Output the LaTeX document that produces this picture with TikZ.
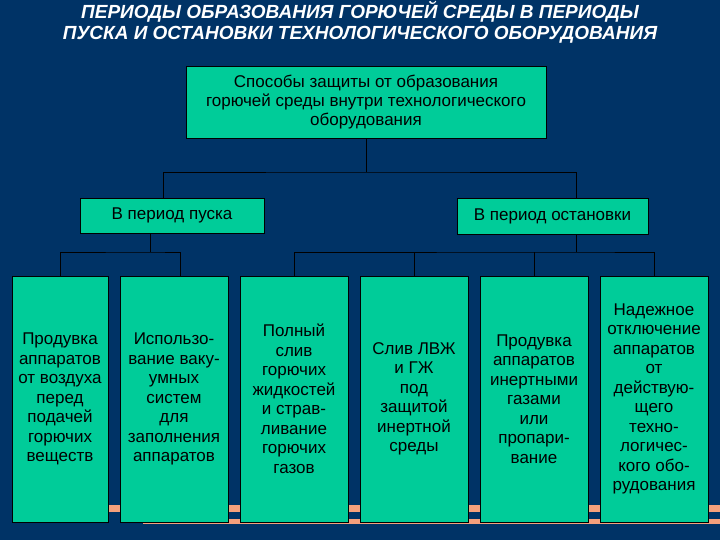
\documentclass[tikz,border=0pt]{standalone}
\usepackage{fontspec}
\setmainfont{Liberation Sans}
\begin{document}
\begin{tikzpicture}[x=1pt,y=-1pt,
  box/.style={draw=black,fill=teal0,line width=0.8pt,inner sep=0pt,font=\fontsize{17}{19.5}\selectfont,align=center},
  conn/.style={draw=black,line width=0.8pt}]
\definecolor{bg}{HTML}{003366}
\definecolor{teal0}{HTML}{00CC99}
\definecolor{salmon}{HTML}{F4A07C}
\fill[bg] (0,0) rectangle (720,540);
\useasboundingbox (0,0) rectangle (720,540);
\fill[salmon] (108,505) rectangle (720,512);
\fill[salmon] (143,519) rectangle (720,524);
\node[font=\fontsize{19}{21}\selectfont\bfseries\itshape,text=white,align=center] (title) at (360,22) {ПЕРИОДЫ ОБРАЗОВАНИЯ ГОРЮЧЕЙ СРЕДЫ В ПЕРИОДЫ\\ПУСКА И ОСТАНОВКИ ТЕХНОЛОГИЧЕСКОГО ОБОРУДОВАНИЯ};
\node[box,minimum width=360,minimum height=72,font=\fontsize{17}{19}\selectfont] (top) at (366,102) {Способы защиты от образования\\горючей среды внутри технологического\\оборудования};
\node[box,minimum width=184,minimum height=35] (start) at (172,215.5) {В период пуска};
\node[box,minimum width=191,minimum height=36] (stop) at (552.5,216) {В период остановки};
\node[box,minimum width=96,minimum height=246] (b1) at (60,399) {Продувка\\аппаратов\\от воздуха\\перед\\подачей\\горючих\\веществ};
\node[box,minimum width=108,minimum height=246] (b2) at (174,399) {Использо-\\вание ваку-\\умных\\систем\\для\\заполнения\\аппаратов};
\node[box,minimum width=108,minimum height=246] (b3) at (294,399) {Полный\\слив\\горючих\\жидкостей\\и страв-\\ливание\\горючих\\газов};
\node[box,minimum width=108,minimum height=246] (b4) at (414,399) {Слив ЛВЖ\\и ГЖ\\под\\защитой\\инертной\\среды};
\node[box,minimum width=108,minimum height=246] (b5) at (534,399) {Продувка\\аппаратов\\инертными\\газами\\или\\пропари-\\вание};
\node[box,minimum width=108,minimum height=246] (b6) at (654,399) {Надежное\\отключение\\аппаратов\\от\\действую-\\щего\\техно-\\логичес-\\кого обо-\\рудования};
\coordinate (j1) at (366,172);
\coordinate (j2) at (150,252);
\coordinate (j3) at (576,252);
\draw[conn] (top.south) -- (j1);
\draw[conn] (start.north -| 163,0) |- (j1) -| (stop.north -| 576,0);
\draw[conn] (start.south -| j2) -- (j2);
\draw[conn] (b1.north) |- (j2) -| (180,276);
\draw[conn] (stop.south -| j3) -- (j3);
\draw[conn] (b3.north) |- (j3) -| (b6.north);
\draw[conn] (b4.north) -- (b4.north |- j3);
\draw[conn] (b5.north) -- (b5.north |- j3);
\end{tikzpicture}
\end{document}
